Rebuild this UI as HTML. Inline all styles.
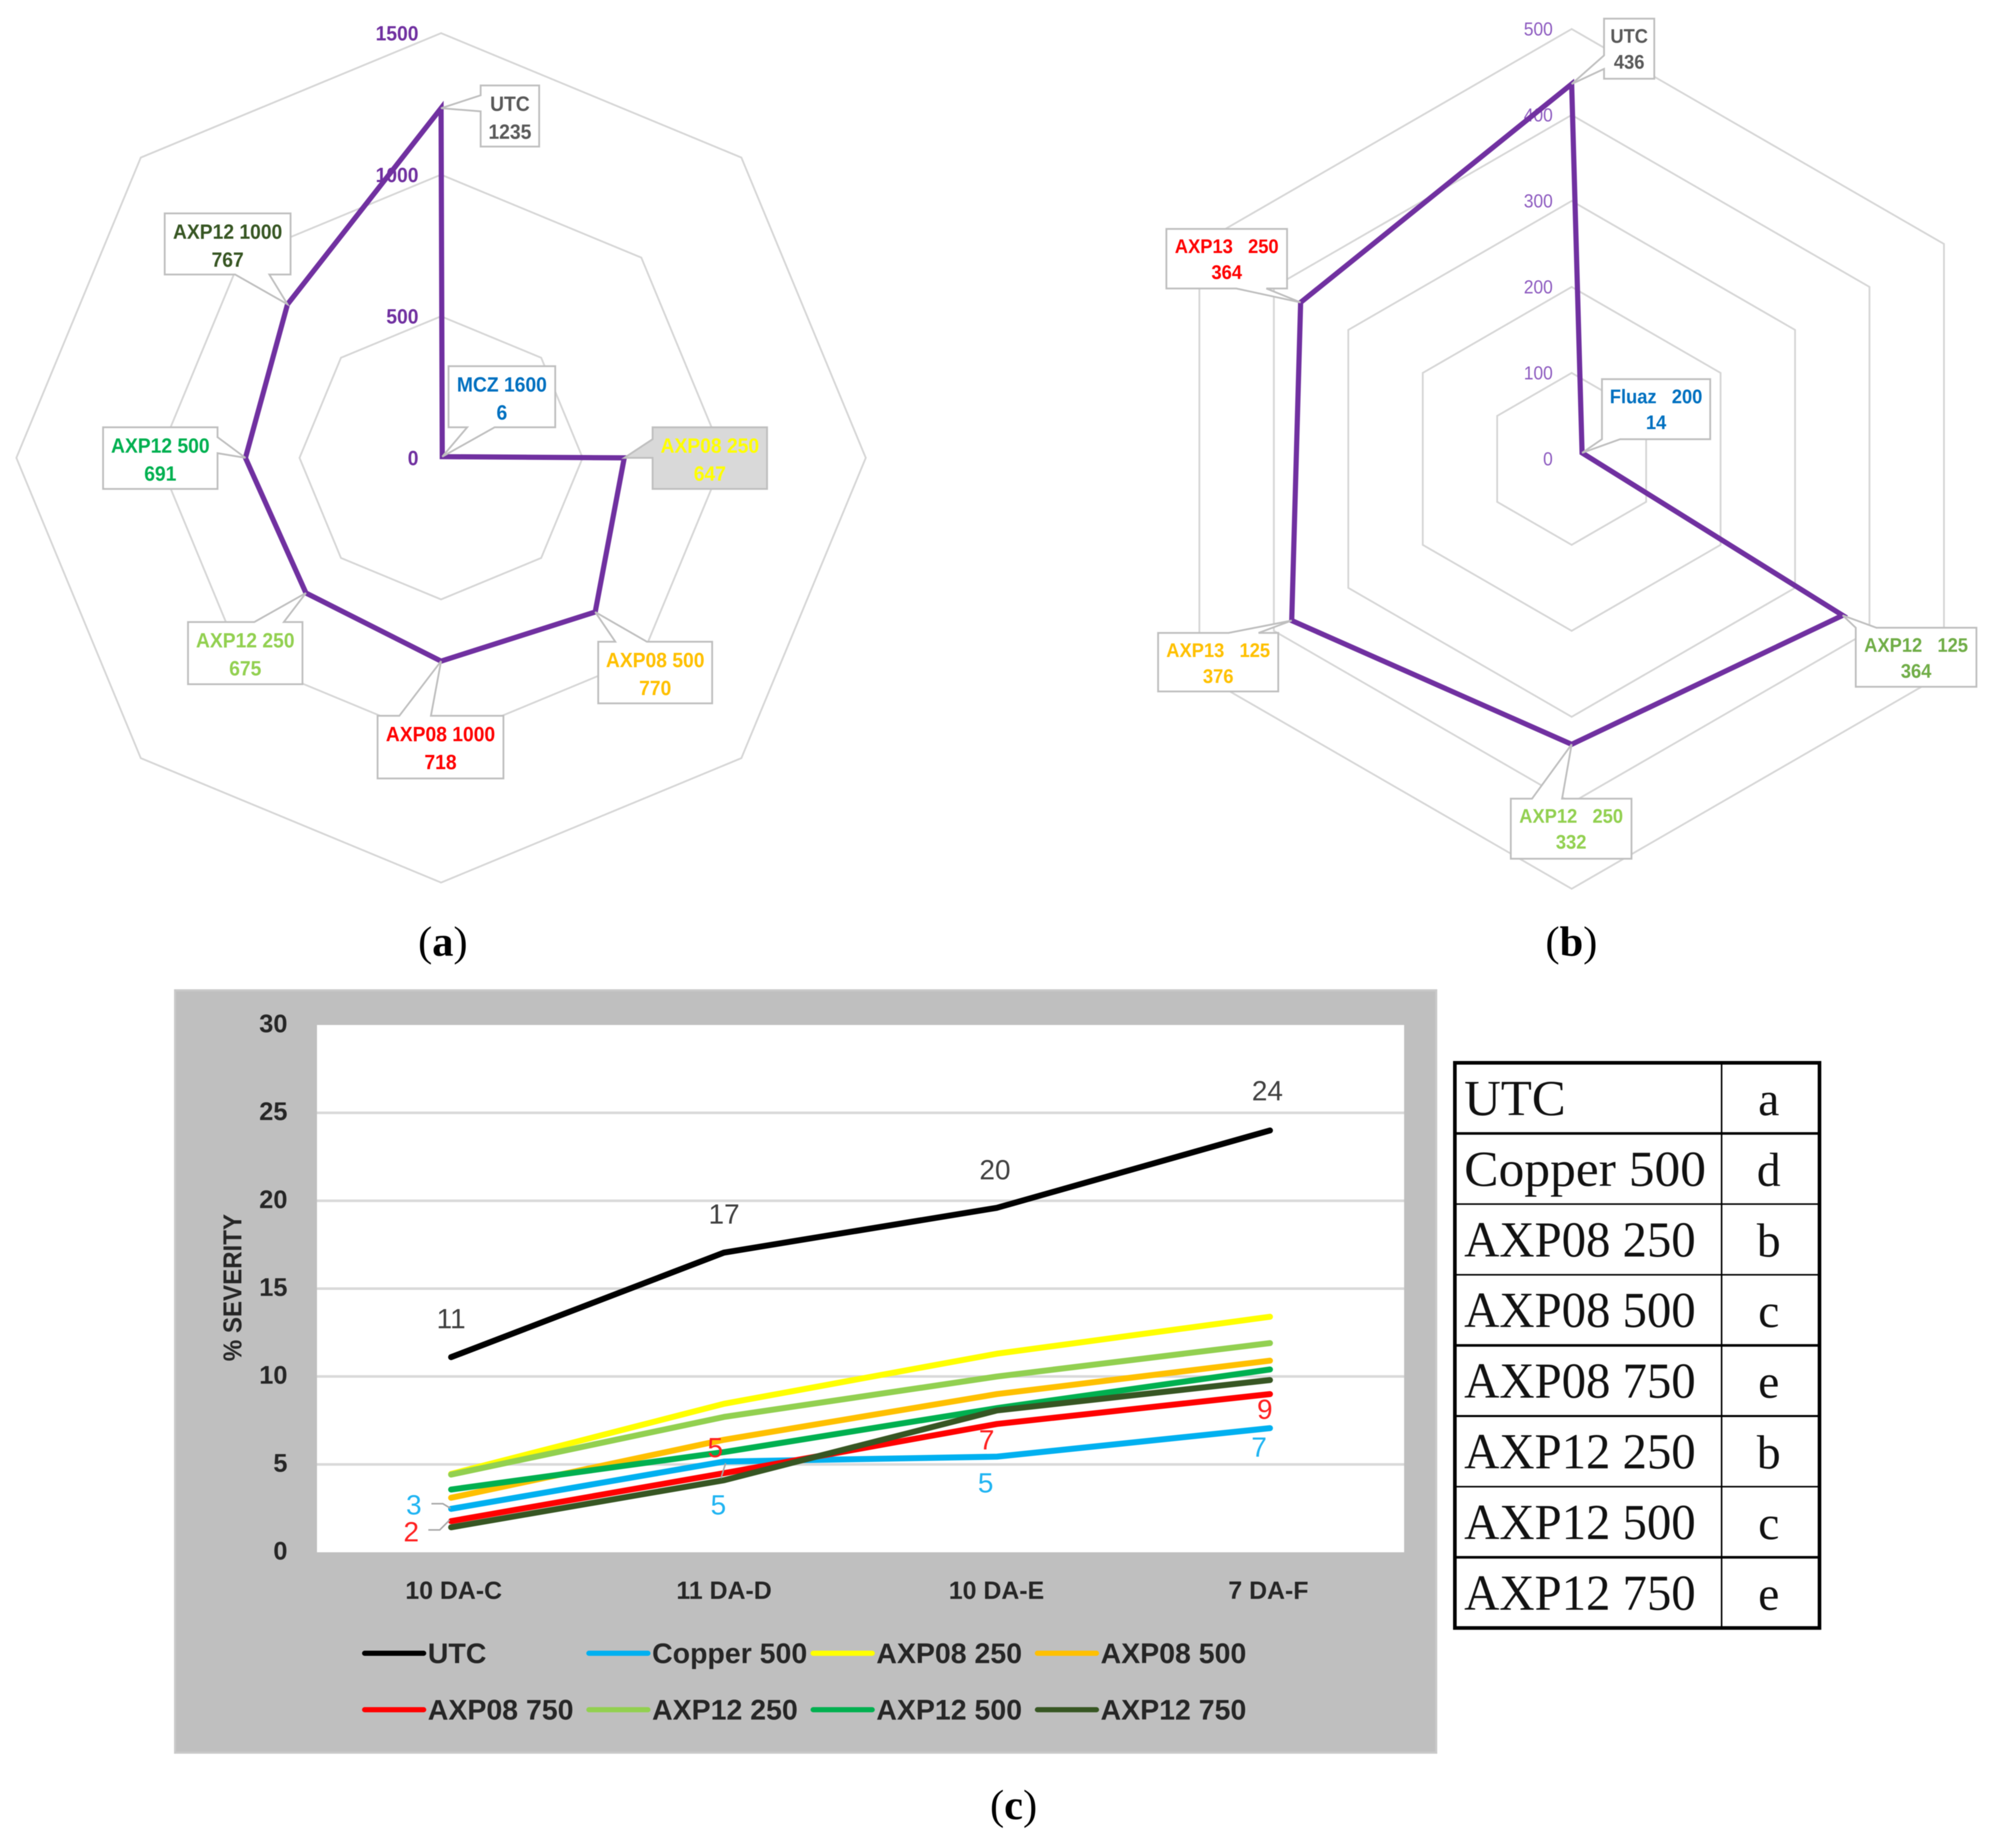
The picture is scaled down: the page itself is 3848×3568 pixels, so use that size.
<!DOCTYPE html>
<html lang="en">
<head>
<meta charset="utf-8">
<title>Radar charts and severity line chart</title>
<style>
  html, body { margin: 0; padding: 0; background: #ffffff; }
  body { width: 3848px; height: 3568px; overflow: hidden; }
  svg { display: block; filter: blur(0.9px); }
  text { white-space: pre; font-family: "Liberation Sans", sans-serif; }
  .serif { font-family: "Liberation Serif", serif; }
</style>
</head>
<body>
<svg id="fig" xmlns="http://www.w3.org/2000/svg" width="3848" height="3568" viewBox="0 0 3848 3568">
  <rect x="0" y="0" width="3848" height="3568" fill="#ffffff"/>
</svg>
<script>
/* ---------- Radar (a) data ---------- */
const radarACategories = ['UTC', 'MCZ 1600', 'AXP08 250', 'AXP08 500', 'AXP08 1000', 'AXP12 250', 'AXP12 500', 'AXP12 1000'];
const radarAValues = [1235, 6, 647, 770, 718, 675, 691, 767];
const radarATicks = [0, 500, 1000, 1500];

/* ---------- Radar (b) data ---------- */
const radarBCategories = ['UTC', 'Fluaz   200', 'AXP12   125', 'AXP12   250', 'AXP13   125', 'AXP13   250'];
const radarBValues = [436, 14, 364, 332, 376, 364];
const radarBTicks = [0, 100, 200, 300, 400, 500];

/* ---------- Line chart (c) data ---------- */
const severityCategories = ['10 DA-C', '11 DA-D', '10 DA-E', '7 DA-F'];
const severityTicks = [0, 5, 10, 15, 20, 25, 30];
const seriesNames = ['UTC', 'Copper 500', 'AXP08 250', 'AXP08 500', 'AXP08 750', 'AXP12 250', 'AXP12 500', 'AXP12 750'];
const utcValues = [11.1, 17.05, 19.6, 24];
const copper500Values = [2.47, 5.16, 5.44, 7.06];
const axp08250Values = [4.46, 8.45, 11.3, 13.4];
const axp08500Values = [3.1, 6.4, 9.0, 10.9];
const axp08750Values = [1.77, 4.5, 7.3, 9.0];
const axp12250Values = [4.42, 7.7, 10.0, 11.9];
const axp12500Values = [3.57, 5.7, 8.2, 10.4];
const axp12750Values = [1.42, 4.1, 8.07, 9.8];
const utcPrinted = [11, 17, 20, 24];
const copperPrinted = [3, 5, 5, 7];
const axp08750Printed = [2, 5, 7, 9];

/* ---------- Table data ---------- */
const tableTreatments = ['UTC', 'Copper 500', 'AXP08 250', 'AXP08 500', 'AXP08 750', 'AXP12 250', 'AXP12 500', 'AXP12 750'];
const tableLetters = ['a', 'd', 'b', 'c', 'e', 'b', 'c', 'e'];

/* ---------- Presentation (not data) ---------- */
const radarAColors = ['#595959', '#0070c0', '#ffff00', '#ffc000', '#ff0000', '#92d050', '#00b050', '#375623'];
const radarBColors = ['#595959', '#0070c0', '#70ad47', '#92d050', '#ffc000', '#ff0000'];
const radarABoxes = [
  {x0: 928, y0: 165, x1: 1041, y1: 283, side: 'left', a: 184, b: 215},
  {x0: 866, y0: 707, x1: 1072, y1: 825, side: 'bottom', a: 902, b: 955},
  {x0: 1260, y0: 825, x1: 1481, y1: 944, side: 'left', a: 848, b: 884, fill: '#d9d9d9'},
  {x0: 1155, y0: 1239, x1: 1375, y1: 1358, side: 'top', a: 1188, b: 1249},
  {x0: 729, y0: 1382, x1: 972, y1: 1503, side: 'top', a: 771, b: 832},
  {x0: 363, y0: 1201, x1: 584, y1: 1321, side: 'top', a: 491, b: 548},
  {x0: 199, y0: 825, x1: 420, y1: 944, side: 'right', a: 844, b: 875},
  {x0: 318, y0: 412, x1: 561, y1: 530, side: 'bottom', a: 454, b: 520}
];
const radarBBoxes = [
  {x0: 3097, y0: 36, x1: 3194, y1: 152, side: 'left', a: 107, b: 133},
  {x0: 3093, y0: 732, x1: 3302, y1: 848, side: 'bottom', a: 3093, b: 3128},
  {x0: 3583, y0: 1212, x1: 3816, y1: 1326, side: 'top', a: 3583, b: 3623},
  {x0: 2917, y0: 1542, x1: 3150, y1: 1658, side: 'top', a: 2958, b: 3016},
  {x0: 2236, y0: 1222, x1: 2468, y1: 1335, side: 'top', a: 2372, b: 2430},
  {x0: 2252, y0: 442, x1: 2485, y1: 557, side: 'bottom', a: 2387, b: 2445}
];

const svg = document.getElementById('fig');
const NS = 'http://www.w3.org/2000/svg';

function mk(tag, attrs, text) {
  const el = document.createElementNS(NS, tag);
  for (const k in attrs) el.setAttribute(k, attrs[k]);
  if (text !== undefined) el.textContent = text;
  svg.appendChild(el);
  return el;
}
function slug(s) {
  return String(s).trim().toLowerCase().replace(/[^a-z0-9]+/g, '-');
}
/* narrows a label horizontally, keeping its height */
function condense(el, factor) {
  const w = el.getComputedTextLength();
  el.setAttribute('textLength', (w * factor).toFixed(1));
  el.setAttribute('lengthAdjust', 'spacingAndGlyphs');
}

function drawRadar(o) {
  const n = o.categories.length;
  const top = o.ticks[o.ticks.length - 1];
  const pt = (i, v) => {
    const ang = -Math.PI / 2 + i * 2 * Math.PI / n;
    const r = (v / top) * o.R;
    return [o.cx + r * Math.cos(ang), o.cy + r * Math.sin(ang)];
  };
  o.ticks.forEach(t => {
    if (t === 0) return;
    const pts = o.categories.map((c, i) => pt(i, t).map(v => v.toFixed(1)).join(',')).join(' ');
    const el = mk('polygon', {points: pts, fill: 'none', stroke: '#d6d6d6', 'stroke-width': 3.5});
    
    
  });
  o.ticks.forEach(t => {
    const y = o.cy - (t / top) * o.R;
    const el = mk('text', {x: o.tickX, y: y + o.tickSize * 0.35, 'text-anchor': 'end', 'font-size': o.tickSize,
      'font-weight': o.tickWeight, fill: o.tickColor}, String(t));
    condense(el, 0.93);
    
    
  });
  const poly = o.values.map((v, i) => pt(i, v).map(c => c.toFixed(1)).join(',')).join(' ');
  const line = mk('polygon', {points: poly, fill: 'none', stroke: '#7030a0', 'stroke-width': 10, 'stroke-linejoin': 'miter'});
  
  

  o.categories.forEach((c, i) => {
    const b = o.boxes[i];
    const p = pt(i, o.values[i]);
    const tip = p[0].toFixed(1) + ',' + p[1].toFixed(1);
    let pts;
    if (b.side === 'left') {
      pts = [b.x0 + ',' + b.y0, b.x1 + ',' + b.y0, b.x1 + ',' + b.y1, b.x0 + ',' + b.y1, b.x0 + ',' + b.b, tip, b.x0 + ',' + b.a];
    } else if (b.side === 'right') {
      pts = [b.x0 + ',' + b.y0, b.x1 + ',' + b.y0, b.x1 + ',' + b.a, tip, b.x1 + ',' + b.b, b.x1 + ',' + b.y1, b.x0 + ',' + b.y1];
    } else if (b.side === 'top') {
      pts = [b.x0 + ',' + b.y0, b.a + ',' + b.y0, tip, b.b + ',' + b.y0, b.x1 + ',' + b.y0, b.x1 + ',' + b.y1, b.x0 + ',' + b.y1];
    } else {
      pts = [b.x0 + ',' + b.y0, b.x1 + ',' + b.y0, b.x1 + ',' + b.y1, b.b + ',' + b.y1, tip, b.a + ',' + b.y1, b.x0 + ',' + b.y1];
    }
    const box = mk('polygon', {points: pts.join(' '), fill: b.fill || '#ffffff', stroke: '#bfbfbf', 'stroke-width': 3.5});
    
    
    const mid = (b.x0 + b.x1) / 2;
    const l1 = mk('text', {x: mid, y: b.y0 + o.line1 + o.labelSize * 0.35, 'text-anchor': 'middle', 'font-size': o.labelSize,
      'font-weight': 'bold', fill: o.colors[i]}, c);
    condense(l1, 0.93);
    
    
    const l2 = mk('text', {x: mid, y: b.y0 + o.line2 + o.labelSize * 0.35, 'text-anchor': 'middle', 'font-size': o.labelSize,
      'font-weight': 'bold', fill: o.colors[i]}, String(o.values[i]));
    condense(l2, 0.93);
    
    
  });
}

drawRadar({prefix: 'radar-a', categories: radarACategories, values: radarAValues, ticks: radarATicks,
  colors: radarAColors, boxes: radarABoxes, cx: 851.6, cy: 884, R: 820,
  tickX: 808, tickSize: 40, tickWeight: 'bold', tickColor: '#7030a0',
  labelSize: 40, line1: 35, line2: 89});

drawRadar({prefix: 'radar-b', categories: radarBCategories, values: radarBValues, ticks: radarBTicks,
  colors: radarBColors, boxes: radarBBoxes, cx: 3034.5, cy: 886, R: 830,
  tickX: 2998, tickSize: 36, tickWeight: 'normal', tickColor: '#8e5cc0',
  labelSize: 38, line1: 33, line2: 83});

/* ---------- Captions ---------- */
function caption(name, letter, x, y) {
  const el = mk('text', {x: x, y: y, 'text-anchor': 'middle', 'font-size': 82, fill: '#000000', class: 'serif'});
  
  
  const a = document.createElementNS(NS, 'tspan');
  a.textContent = '(';
  el.appendChild(a);
  const b = document.createElementNS(NS, 'tspan');
  b.setAttribute('font-weight', 'bold');
  b.textContent = letter;
  el.appendChild(b);
  const c = document.createElementNS(NS, 'tspan');
  c.textContent = ')';
  el.appendChild(c);
}
caption('caption-a', 'a', 855, 1845);
caption('caption-b', 'b', 3034, 1845);
caption('caption-c', 'c', 1957, 3512);

/* ---------- Line chart ---------- */
const plot = {x0: 612, x1: 2711, y0: 1979, y1: 2997};
const xScale = i => 871 + 527 * i;
const yScale = v => plot.y1 - (v / 30) * (plot.y1 - plot.y0);

const panel = mk('rect', {x: 338, y: 1912, width: 2435, height: 1472, fill: '#bfbfbf', stroke: '#c9c9c9', 'stroke-width': 4});


const plotBg = mk('rect', {x: plot.x0, y: plot.y0, width: plot.x1 - plot.x0, height: plot.y1 - plot.y0, fill: '#ffffff'});



severityTicks.forEach(t => {
  if (t !== 0 && t !== 30) {
    const g = mk('line', {x1: plot.x0, x2: plot.x1, y1: yScale(t), y2: yScale(t), stroke: '#d9d9d9', 'stroke-width': 5});
    
    
  }
  const lbl = mk('text', {x: 555, y: yScale(t) + 14, 'text-anchor': 'end', 'font-size': 49, 'font-weight': 'bold', fill: '#262626'}, String(t));
  
  
});

const yTitle = mk('text', {x: 0, y: 0, transform: 'translate(466 2486) rotate(-90)', 'text-anchor': 'middle', 'font-size': 50,
  'font-weight': 'bold', fill: '#262626'}, '% SEVERITY');
condense(yTitle, 0.93);



const xLabelNudges = [5, 0, -1, -3];
severityCategories.forEach((c, i) => {
  const t = mk('text', {x: xScale(i) + xLabelNudges[i], y: 3087, 'text-anchor': 'middle', 'font-size': 48, 'font-weight': 'bold', fill: '#262626'}, c);
  
  
});

const seriesValues = [utcValues, copper500Values, axp08250Values, axp08500Values, axp08750Values, axp12250Values, axp12500Values, axp12750Values];
const seriesColors = ['#000000', '#00b0f0', '#ffff00', '#ffc000', '#ff0000', '#92d050', '#00b050', '#375623'];

seriesNames.forEach((name, s) => {
  const d = seriesValues[s].map((v, i) => (i ? 'L' : 'M') + xScale(i) + ' ' + yScale(v).toFixed(1)).join(' ');
  const p = mk('path', {d: d, fill: 'none', stroke: seriesColors[s], 'stroke-width': 11.5, 'stroke-linecap': 'round', 'stroke-linejoin': 'round'});
  
  
});

/* printed value labels, offset from their own series points */
const utcLabelOffsets = [[0, -56], [0, -56], [-4, -55], [-5, -58]];
const copperLabelOffsets = [[-72, 11], [-11, 102], [-22, 69], [-21, 55]];
const redLabelOffsets = [[-77, 39], [-17, -31], [-20, 49], [-10, 48]];
function valueLabels(printed, values, offsets, color, key) {
  printed.forEach((txt, i) => {
    const o = offsets[i];
    const t = mk('text', {x: xScale(i) + o[0], y: yScale(values[i]) + o[1], 'text-anchor': 'middle', 'font-size': 54, fill: color}, String(txt));
    
    
  });
}
valueLabels(utcPrinted, utcValues, utcLabelOffsets, '#404040', 'utc');
valueLabels(copperPrinted, copper500Values, copperLabelOffsets, '#1fb4f2', 'copper-500');
valueLabels(axp08750Printed, axp08750Values, redLabelOffsets, '#ff2020', 'axp08-750');

function leader(name, i, values, pts) {
  const px = xScale(i), py = yScale(values[i]);
  const d = pts.map((q, k) => (k ? 'L' : 'M') + (px + q[0]) + ' ' + (py + q[1]).toFixed(1)).join(' ');
  const el = mk('path', {d: d, fill: 'none', stroke: '#a6a6a6', 'stroke-width': 3});
  
  
}
leader('copper-500-leader-line-first', 0, copper500Values, [[-38, -10], [-16, -10], [-1, -1]]);
leader('axp08-750-leader-line-first', 0, axp08750Values, [[-44, 17], [-22, 17], [-3, -2]]);
leader('copper-500-leader-line-second', 1, copper500Values, [[3, 3], [-6, 32]]);

/* ---------- Legend ---------- */
const legendColX = [704, 1137, 1570, 2003];
const legendRowY = [3192, 3301];
seriesNames.forEach((name, s) => {
  const col = s % 4, row = Math.floor(s / 4);
  const x = legendColX[col], y = legendRowY[row];
  const sw = mk('line', {x1: x, x2: x + 114, y1: y, y2: y, stroke: seriesColors[s], 'stroke-width': 10, 'stroke-linecap': 'round'});
  
  
  const t = mk('text', {x: x + 122, y: y + 19, 'font-size': 55, 'font-weight': 'bold', fill: '#262626'}, name);
  
  
});

/* ---------- Table ---------- */
const tbl = {x0: 2809, x1: 3513, y0: 2052, rowH: 136.4, split: 3324};
const ruleWidths = [5, 3, 3, 5, 4, 3, 5];
const rows = tableTreatments.length;
const tblBottom = tbl.y0 + rows * tbl.rowH;
for (let r = 0; r < rows - 1; r++) {
  const yy = tbl.y0 + (r + 1) * tbl.rowH;
  const rule = mk('line', {x1: tbl.x0, x2: tbl.x1, y1: yy, y2: yy, stroke: '#000000', 'stroke-width': ruleWidths[r]});
  
  
}
const colRule = mk('line', {x1: tbl.split, x2: tbl.split, y1: tbl.y0, y2: tblBottom, stroke: '#000000', 'stroke-width': 3});


const tblBorder = mk('rect', {x: tbl.x0, y: tbl.y0, width: tbl.x1 - tbl.x0, height: tblBottom - tbl.y0, fill: 'none', stroke: '#000000', 'stroke-width': 7});


tableTreatments.forEach((name, r) => {
  const base = tbl.y0 + r * tbl.rowH + 101;
  const a = mk('text', {x: 2827, y: base, 'font-size': 98, fill: '#111111', class: 'serif'}, name);
  if (name.indexOf('AXP') === 0) condense(a, 0.96);
  if (name.indexOf('Copper') === 0) condense(a, 1.015);
  
  
  const b = mk('text', {x: 3415, y: base, 'text-anchor': 'middle', 'font-size': 92, fill: '#111111', class: 'serif'}, tableLetters[r]);
  
  
});
</script>
</body>
</html>
